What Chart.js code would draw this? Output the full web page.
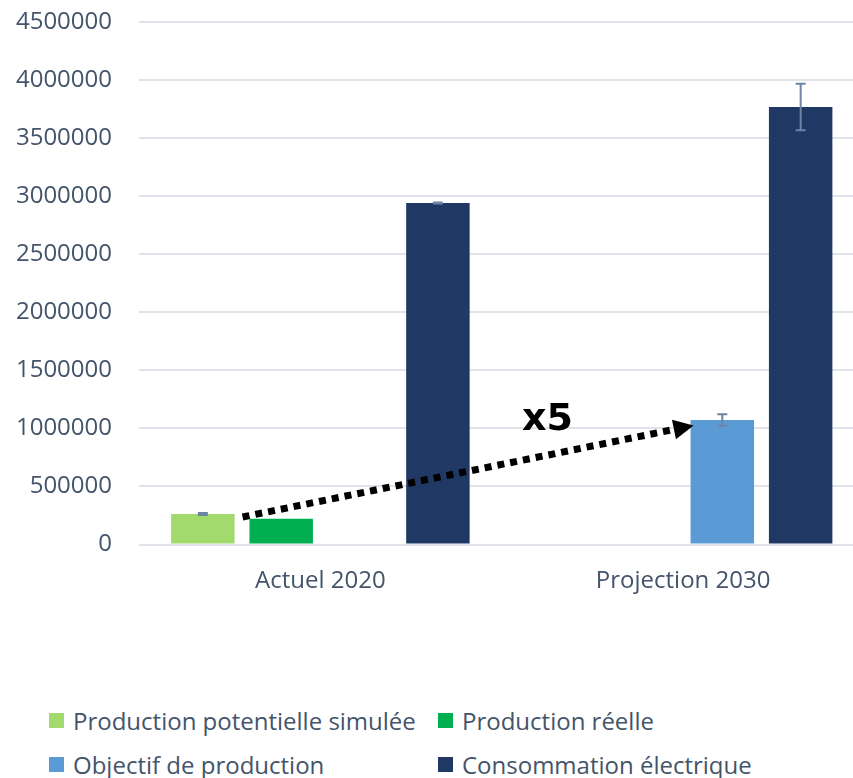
<!DOCTYPE html>
<html>
<head>
<meta charset="utf-8">
<script src="https://cdn.jsdelivr.net/npm/chart.js@4/dist/chart.umd.min.js"></script>
<style>
	body { margin: 0; background: #fff; overflow: hidden; }
	#wrap { position: relative; width: 853px; height: 778px; overflow: hidden; font-family: "Open Sans", sans-serif; }
	#box { position: absolute; left: 0; top: 0; width: 880px; height: 610px; }
	.item { position: absolute; height: 30px; display: flex; align-items: center; font-size: 24px; color: #44546A; white-space: nowrap; }
	.item span { display: inline-block; width: 15px; height: 15px; margin-right: 9px; }
</style>
</head>
<body>
<div id="wrap">
	<div id="box"><canvas id="myCanvas"></canvas></div>
	<div id="legend"></div>
</div>
<script>
let categories = ["Actuel 2020", "Projection 2030"];

let potentielle = [263000, null];
let reelle = [221000, null];
let objectif = [null, 1072000];
let consommation = [2941000, 3768000];

// +/- error for each bar (0 = none)
let potentielleErr = [8000, 0];
let reelleErr = [0, 0];
let objectifErr = [0, 50000];
let consommationErr = [5000, 200000];

let yTicks = [0, 500000, 1000000, 1500000, 2000000, 2500000, 3000000, 3500000, 4000000, 4500000];

// arrow from the simulated production bar to the 2030 objective
let arrowFrom = 237000;
let arrowTo = 1025000;
let arrowLabel = "x5";

const textColor = "#44546A";

const errorBars = {
	id: "errorBars",
	afterDatasetsDraw(chart) {
		const c = chart.ctx;
		const y = chart.scales.y;
		c.save();
		c.strokeStyle = "#6C85A5";
		c.lineWidth = 2;
		chart.data.datasets.forEach((ds, i) => {
			const meta = chart.getDatasetMeta(i);
			ds.errors.forEach((e, j) => {
				const v = ds.data[j];
				if (v == null || !e) return;
				const x = meta.data[j].x;
				const top = y.getPixelForValue(v + e);
				const bot = y.getPixelForValue(v - e);
				c.beginPath();
				c.moveTo(x, top);
				c.lineTo(x, bot);
				c.moveTo(x - 5, top);
				c.lineTo(x + 5, top);
				c.moveTo(x - 5, bot);
				c.lineTo(x + 5, bot);
				c.stroke();
			});
		});
		c.restore();
	},
};

const growthArrow = {
	id: "growthArrow",
	afterDraw(chart) {
		const c = chart.ctx;
		const y = chart.scales.y;
		const b0 = chart.getDatasetMeta(0).data[0];
		const b2 = chart.getDatasetMeta(2).data[1];
		const x1 = b0.x + b0.width / 2 + 8;
		const y1 = y.getPixelForValue(arrowFrom);
		const x2 = b2.x - b2.width / 2 + 3;
		const y2 = y.getPixelForValue(arrowTo);
		const ang = Math.atan2(y2 - y1, x2 - x1);
		const head = 20;
		const bx = x2 - head * Math.cos(ang);
		const by = y2 - head * Math.sin(ang);

		c.save();
		c.strokeStyle = "#000";
		c.fillStyle = "#000";
		c.lineWidth = 7;
		c.setLineDash([7, 6]);
		c.beginPath();
		c.moveTo(x1, y1);
		c.lineTo(bx, by);
		c.stroke();
		c.setLineDash([]);
		c.beginPath();
		c.moveTo(x2, y2);
		c.lineTo(bx + 10 * Math.sin(ang), by - 10 * Math.cos(ang));
		c.lineTo(bx - 10 * Math.sin(ang), by + 10 * Math.cos(ang));
		c.closePath();
		c.fill();

		const t = 0.676;
		c.font = "bold 38px 'DejaVu Sans'";
		c.textAlign = "center";
		c.textBaseline = "alphabetic";
		c.fillText(arrowLabel, x1 + (x2 - x1) * t, y1 + (y2 - y1) * t - 25);
		c.restore();
	},
};

const ctx = document.getElementById("myCanvas").getContext("2d");
const myChart = new Chart(ctx, {
	type: "bar",
	data: {
		labels: categories,
		datasets: [
			{ label: "Production potentielle simulée", data: potentielle, errors: potentielleErr, backgroundColor: "#A3DA6D" },
			{ label: "Production réelle", data: reelle, errors: reelleErr, backgroundColor: "#00B050" },
			{ label: "Objectif de production", data: objectif, errors: objectifErr, backgroundColor: "#5B9BD5" },
			{ label: "Consommation électrique", data: consommation, errors: consommationErr, backgroundColor: "#203864" },
		],
	},
	options: {
		responsive: true,
		maintainAspectRatio: false,
		animation: false,
		layout: { padding: { top: 22, right: 15.5, left: 0, bottom: 0 } },
		datasets: { bar: { barPercentage: 0.81, categoryPercentage: 0.864 } },
		plugins: { legend: { display: false }, tooltip: { enabled: false } },
		scales: {
			x: {
				grid: { display: false, drawTicks: false },
				border: { display: false },
				ticks: { color: textColor, font: { family: "Open Sans", size: 24 }, padding: 22 },
				afterFit: (s) => { s.height = 65.5; s.paddingLeft = 0; s.paddingRight = 0; },
			},
			y: {
				min: 0,
				max: 4500000,
				grid: { color: "#E0E3E9", lineWidth: 2, drawTicks: false },
				border: { display: false },
				afterBuildTicks: (s) => { s.ticks = yTicks.map((v) => ({ value: v })); },
				ticks: {
					color: textColor,
					font: { family: "Open Sans", size: 24 },
					padding: 27,
					callback: (value) => String(value),
				},
				afterFit: (s) => { s.width = 139; s.paddingTop = 0; s.paddingBottom = 0; },
			},
		},
	},
	plugins: [errorBars, growthArrow],
});

// two-column legend under the chart
const legendPos = [[49, 705], [438, 705], [49, 749.5], [438, 749.5]];
const legend = document.getElementById("legend");
myChart.data.datasets.forEach((ds, i) => {
	const d = document.createElement("div");
	d.className = "item";
	d.style.left = legendPos[i][0] + "px";
	d.style.top = legendPos[i][1] + "px";
	const sw = document.createElement("span");
	sw.style.background = ds.backgroundColor;
	d.appendChild(sw);
	d.appendChild(document.createTextNode(ds.label));
	legend.appendChild(d);
});
</script>
</body>
</html>
